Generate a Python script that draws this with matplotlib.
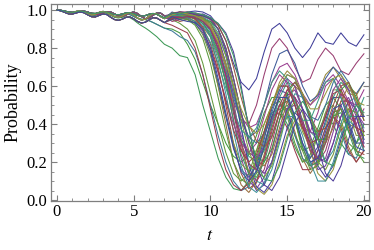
import colorsys
import numpy as np
import matplotlib
matplotlib.use("Agg")
import matplotlib.pyplot as plt
from matplotlib.ticker import MultipleLocator

# time grids: fine sampling for the early wiggles, coarser afterwards
t_early = np.arange(0, 7.01, 0.25)
t_late = np.arange(7.5, 20.01, 0.5)

# early (t = 0 .. 7) shapes shared by several curves
early_a = [1.0, .998, .992, .985, .982, .986, .993, .995, .99, .982, .976, .978, .986, .992, .99,
           .98, .97, .966, .974, .985, .99, .982, .966, .955, .958, .972, .985, .984, .97]
early_b = [1.0, .997, .99, .984, .986, .993, .996, .99, .98, .974, .978, .988, .993, .988, .976,
           .966, .962, .968, .98, .986, .975, .958, .948, .952, .968, .982, .98, .966, .955]
early_c = [1.0, .999, .995, .99, .988, .99, .994, .993, .988, .983, .982, .986, .99, .99, .984,
           .977, .975, .979, .985, .986, .98, .972, .968, .971, .978, .982, .978, .968, .958]
early_d = [1.0, .997, .99, .983, .982, .988, .993, .99, .981, .973, .972, .98, .986, .983, .972,
           .962, .958, .962, .965, .96, .948, .932, .918, .906, .892, .876, .86, .84, .82]
early_e = [1.0, .996, .988, .982, .985, .992, .994, .988, .978, .972, .976, .985, .99, .985, .974,
           .964, .962, .97, .978, .976, .966, .956, .952, .95, .944, .935, .925, .915, .905]
early_f = [1.0, .996, .988, .98, .979, .985, .99, .986, .975, .965, .964, .972, .98, .976, .962,
           .95, .946, .952, .962, .964, .954, .94, .932, .936, .948, .96, .958, .946, .934]

# late part (t = 7.5 .. 20) of every curve
u1 = [.97, .98, .99, .995, .99, .97, .92, .84, .72, .62, .58, .64, .78, .9, .93, .88, .8, .75, .8, .88, .83, .82, .88, .83, .81, .87]
u2 = [.98, .99, .99, .98, .95, .9, .8, .66, .52, .42, .4, .5, .66, .8, .85, .8, .7, .62, .64, .74, .8, .76, .68, .66, .72, .77]
u3 = [.97, .96, .97, .97, .96, .93, .85, .72, .56, .42, .33, .36, .5, .66, .77, .79, .72, .6, .52, .55, .64, .7, .66, .58, .56, .62]
u4 = [.96, .965, .96, .94, .91, .86, .76, .62, .46, .32, .24, .26, .36, .5, .62, .68, .64, .54, .5, .56, .66, .7, .64, .56, .55, .62]
u5 = [.97, .975, .97, .96, .94, .9, .82, .7, .56, .44, .38, .4, .5, .62, .7, .72, .66, .56, .5, .54, .62, .66, .6, .52, .5, .58]
b1 = [.8, .76, .75, .66, .5, .36, .22, .12, .06, .05, .1, .22, .36, .46, .48, .4, .28, .2, .24, .36, .44, .4, .3, .24, .3, .4]
b2 = [.89, .86, .84, .78, .66, .5, .34, .2, .1, .05, .07, .16, .3, .42, .5, .46, .34, .22, .18, .26, .38, .44, .36, .24, .22, .32]
b3 = [.97, .975, .97, .95, .9, .78, .6, .4, .2, .08, .04, .1, .24, .4, .5, .48, .36, .22, .14, .2, .34, .44, .4, .28, .2, .26]
b4 = [.98, .97, .975, .97, .95, .9, .79, .62, .42, .22, .1, .06, .12, .26, .42, .55, .58, .48, .32, .2, .22, .36, .5, .54, .44, .3]
b5 = [.95, .93, .9, .84, .72, .56, .4, .25, .14, .1, .14, .26, .4, .5, .52, .44, .3, .2, .22, .34, .46, .5, .42, .3, .26, .34]
b6 = [.98, .985, .98, .97, .965, .94, .88, .76, .58, .38, .2, .1, .08, .16, .3, .46, .56, .54, .42, .28, .2, .26, .4, .52, .54, .44]
b7 = [.97, .96, .955, .93, .87, .76, .6, .44, .3, .19, .15, .2, .34, .5, .6, .6, .5, .36, .28, .32, .46, .58, .58, .46, .34, .34]
b8 = [.975, .98, .97, .96, .93, .87, .77, .63, .47, .32, .23, .2, .26, .4, .54, .62, .6, .48, .36, .32, .4, .54, .62, .58, .46, .38]
b9 = [.97, .975, .985, .98, .96, .92, .84, .7, .5, .3, .14, .06, .03, .08, .2, .34, .42, .38, .26, .14, .1, .16, .3, .4, .38, .26]
b10 = [.96, .97, .965, .955, .93, .88, .78, .62, .42, .24, .14, .12, .2, .34, .46, .5, .42, .28, .18, .2, .32, .44, .46, .36, .24, .22]
b11 = [.97, .965, .96, .94, .89, .8, .67, .53, .4, .3, .25, .3, .44, .58, .66, .62, .5, .38, .36, .46, .6, .64, .56, .44, .4, .48]
b12 = [.98, .975, .985, .98, .97, .95, .9, .8, .64, .46, .3, .21, .18, .24, .38, .52, .6, .56, .44, .32, .3, .38, .52, .6, .56, .44]
b13 = [.9, .88, .82, .74, .62, .5, .4, .3, .23, .2, .24, .34, .46, .54, .54, .46, .34, .26, .28, .38, .5, .54, .48, .36, .3, .36]
b14 = [.97, .98, .975, .96, .94, .89, .8, .68, .54, .42, .33, .3, .35, .46, .58, .66, .64, .54, .44, .42, .5, .62, .68, .62, .5, .44]
b15 = [.985, .99, .985, .98, .97, .955, .92, .84, .7, .54, .4, .31, .28, .33, .46, .58, .62, .56, .44, .36, .38, .5, .6, .62, .52, .42]
b16 = [.96, .955, .95, .92, .85, .72, .54, .36, .2, .11, .08, .14, .28, .44, .54, .54, .42, .26, .16, .18, .3, .44, .48, .4, .26, .2]
b17 = [.97, .975, .97, .955, .92, .86, .74, .56, .36, .18, .07, .04, .09, .2, .34, .44, .44, .34, .2, .1, .1, .2, .34, .42, .38, .26]
b18 = [.975, .97, .975, .97, .955, .93, .87, .76, .6, .42, .26, .15, .12, .18, .32, .46, .52, .46, .32, .2, .16, .24, .38, .48, .46, .34]
b19 = [.975, .97, .96, .94, .9, .83, .72, .59, .47, .37, .33, .38, .5, .62, .68, .64, .52, .42, .42, .52, .62, .64, .54, .44, .44, .54]
b20 = [.965, .96, .965, .96, .94, .9, .8, .66, .48, .3, .19, .16, .22, .36, .5, .58, .54, .4, .26, .22, .3, .46, .56, .52, .38, .28]
b21 = [.985, .98, .99, .985, .975, .96, .93, .87, .76, .58, .38, .2, .11, .1, .18, .32, .46, .52, .46, .32, .2, .18, .28, .42, .5, .46]
b22 = [.95, .97, .985, .98, .96, .93, .86, .72, .52, .3, .13, .05, .08, .2, .36, .48, .5, .4, .26, .16, .18, .3, .44, .48, .38, .26]
b23 = [.96, .94, .95, .97, .94, .86, .7, .5, .3, .14, .06, .09, .22, .38, .5, .52, .42, .28, .18, .2, .34, .46, .48, .38, .26, .24]
b24 = [.99, .975, .96, .97, .98, .96, .9, .78, .6, .38, .18, .07, .04, .1, .24, .38, .46, .42, .3, .18, .12, .18, .32, .44, .44, .32]
b25 = [.94, .95, .97, .975, .955, .91, .82, .66, .46, .27, .15, .1, .16, .3, .46, .56, .54, .42, .28, .2, .26, .4, .52, .52, .4, .28]
b26 = [.95, .96, .95, .93, .88, .78, .62, .44, .27, .16, .12, .18, .32, .48, .58, .56, .44, .3, .22, .28, .42, .54, .54, .42, .3, .3]
b27 = [.97, .99, .98, .96, .95, .94, .9, .8, .64, .46, .32, .23, .2, .27, .42, .56, .62, .56, .42, .32, .32, .44, .58, .62, .54, .42]
b28 = [.96, .95, .965, .97, .95, .9, .8, .65, .48, .34, .25, .22, .28, .42, .56, .64, .6, .48, .36, .34, .44, .58, .64, .58, .46, .4]
b29 = [.92, .9, .88, .8, .66, .48, .3, .16, .08, .05, .09, .2, .34, .44, .46, .38, .26, .16, .16, .26, .38, .44, .38, .26, .2, .26]
b30 = [.985, .97, .975, .985, .975, .95, .9, .8, .64, .46, .3, .18, .14, .2, .34, .48, .54, .48, .34, .22, .2, .3, .44, .52, .48, .36]
b31 = [.955, .965, .97, .955, .91, .82, .68, .52, .37, .26, .2, .24, .36, .5, .6, .6, .5, .38, .3, .32, .44, .56, .58, .5, .38, .36]
b32 = [.98, .99, .985, .975, .97, .955, .93, .88, .78, .6, .38, .18, .08, .05, .12, .26, .4, .48, .42, .28, .14, .1, .18, .32, .44, .44]
b33 = [.975, .985, .98, .97, .95, .91, .83, .72, .6, .48, .39, .35, .4, .5, .6, .66, .64, .56, .48, .48, .56, .64, .66, .6, .52, .5]
b34 = [.965, .95, .94, .935, .9, .8, .64, .46, .28, .15, .1, .15, .28, .44, .54, .54, .44, .3, .2, .22, .36, .48, .5, .4, .28, .26]

# (early shape, late values) in drawing order
curves = [
    (early_a, u1), (early_c, u2), (early_b, u4), (early_d, b1), (early_a, u3),
    (early_c, u5), (early_b, b3), (early_e, b13), (early_e, b2), (early_a, b4),
    (early_f, b23), (early_c, b5), (early_b, b6), (early_a, b22), (early_f, b29),
    (early_a, b7), (early_c, b8), (early_b, b24), (early_a, b25), (early_b, b9),
    (early_a, b10), (early_f, b26), (early_c, b11), (early_b, b12), (early_c, b27),
    (early_a, b14), (early_b, b28), (early_c, b15), (early_f, b16), (early_a, b17),
    (early_c, b30), (early_f, b31), (early_c, b18), (early_b, b19), (early_c, b32),
    (early_a, b20), (early_b, b33), (early_c, b21), (early_f, b34),
]

plt.rcParams["font.family"] = ["Liberation Serif", "DejaVu Serif"]
plt.rcParams["mathtext.fontset"] = "stix"

fig = plt.figure(figsize=(3.74, 2.5), dpi=100)
ax = fig.add_axes([0.1364, 0.196, 0.8502, 0.788])

t = np.concatenate([t_early, t_late])
hue = 0.67
for early, late in curves:
    col = colorsys.hsv_to_rgb(hue % 1.0, 0.6, 0.6)
    ax.plot(t, list(early) + list(late), color=col, lw=0.75)
    hue += 0.236068

ax.set_xlim(-0.39, 20.33)
ax.set_ylim(-0.005, 1.032)
ax.xaxis.set_major_locator(MultipleLocator(5))
ax.xaxis.set_minor_locator(MultipleLocator(1))
ax.yaxis.set_major_locator(MultipleLocator(0.2))
ax.yaxis.set_minor_locator(MultipleLocator(0.05))
ax.yaxis.set_major_formatter(plt.FuncFormatter(lambda v, p: f"{v:.1f}"))

frame_col = "#7f7f7f"
for s in ax.spines.values():
    s.set_color(frame_col)
    s.set_linewidth(0.9)
ax.tick_params(which="both", direction="in", top=True, right=True, color=frame_col,
               labelsize=12, labelcolor="black", pad=2.5)
ax.tick_params(which="major", length=4, width=0.8)
ax.tick_params(which="minor", length=2, width=0.6)

ax.set_xlabel("$t$", fontsize=13, labelpad=5)
ax.set_ylabel("Probability", fontsize=13, labelpad=4)

fig.savefig("out.png", dpi=100)
